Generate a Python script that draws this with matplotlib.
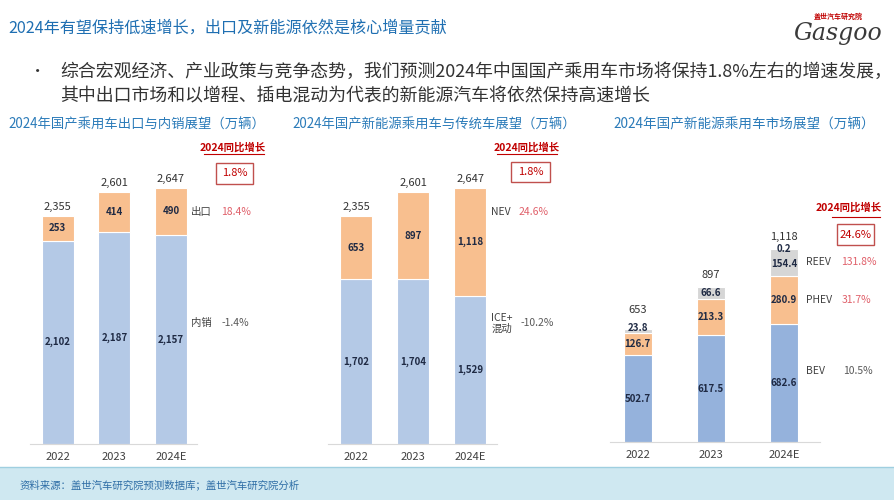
import matplotlib
matplotlib.use("Agg")
import matplotlib.pyplot as plt
from matplotlib.patches import Rectangle
from matplotlib.lines import Line2D

plt.rcParams['font.family'] = ['Noto Sans CJK SC', 'DejaVu Sans']

# ---- data ----
years = ['2022', '2023', '2024E']

domestic = [2102, 2187, 2157]
export = [253, 414, 490]
totals1 = [2355, 2601, 2647]

ice = [1702, 1704, 1529]
nev = [653, 897, 1118]
totals2 = [2355, 2601, 2647]

bev = [502.7, 617.5, 682.6]
phev = [126.7, 213.3, 280.9]
reev = [23.8, 66.6, 154.4]
fcev = [0, 0, 0.2]
totals3 = [653, 897, 1118]

growth_total = '1.8%'
growth_export, growth_domestic = '18.4%', '-1.4%'
growth_nev, growth_ice = '24.6%', '-10.2%'
growth_nev_total = '24.6%'
growth_reev, growth_phev, growth_bev = '131.8%', '31.7%', '10.5%'

BLUE = '#b4c9e6'
BLUE3 = '#95b2dc'
ORANGE = '#f8bf8f'
GREY = '#d6d6d6'
VAL = '#1f2a44'
RED = '#c00000'
PINK = '#e0606a'
GRAYTXT = '#595959'
TITLEBLUE = '#2b7bb9'

W, H = 894, 500
fig = plt.figure(figsize=(W / 100, H / 100), dpi=100)


def fx(x):
    return x / W


def fy(y):
    return 1 - y / H


def axes_px(x0, x1, ytop, ybot):
    return fig.add_axes([fx(x0), fy(ybot), (x1 - x0) / W, (ybot - ytop) / H])


def fmt(v):
    return f'{v:,.0f}'


def style(ax):
    for s in ['top', 'right', 'left']:
        ax.spines[s].set_visible(False)
    ax.spines['bottom'].set_color('#d9d9d9')
    ax.set_yticks([])
    ax.set_xticks(range(3))
    ax.set_xticklabels(years, fontsize=8, color='#404040')
    ax.tick_params(axis='x', length=0, pad=6)
    ax.patch.set_alpha(0)


def growth_header(cx, y, x0, x1, yline, bx0, bx1, by0, by1, val):
    fig.text(fx(cx), fy(y), '2024同比增长', ha='center', va='center',
             fontsize=7.5, color=RED, fontweight='bold')
    fig.add_artist(Line2D([fx(x0), fx(x1)], [fy(yline), fy(yline)],
                          color=RED, lw=0.8))
    fig.add_artist(Rectangle((fx(bx0), fy(by1)), (bx1 - bx0) / W, (by1 - by0) / H,
                             fill=False, edgecolor='#c0504d', lw=1.0))
    fig.text(fx((bx0 + bx1) / 2), fy((by0 + by1) / 2), val, ha='center',
             va='center', fontsize=8, color=RED)


# ---- header texts ----
fig.text(fx(8), fy(28), '2024年有望保持低速增长，出口及新能源依然是核心增量贡献',
         fontsize=11.6, color='#1f6fb2', va='center', ha='left')
fig.text(fx(30), fy(72), '•', fontsize=11, color='#333333', va='center')
fig.text(fx(60), fy(72),
         '综合宏观经济、产业政策与竞争态势，我们预测2024年中国国产乘用车市场将保持1.8%左右的增速发展，',
         fontsize=12.9, color='#333333', va='center')
fig.text(fx(60), fy(96), '其中出口市场和以增程、插电混动为代表的新能源汽车将依然保持高速增长',
         fontsize=12.9, color='#333333', va='center')

# logo
fig.text(fx(838), fy(16), '盖世汽车研究院', fontsize=5, color=RED, ha='center',
         va='center', fontweight='bold')
fig.text(fx(838), fy(33), 'Gasgoo', fontsize=17, color='#3a3a3a', ha='center',
         va='center', family='DejaVu Serif', style='italic')

fig.text(fx(8), fy(125), '2024年国产乘用车出口与内销展望（万辆）', fontsize=9.6,
         color=TITLEBLUE, va='center')
fig.text(fx(292), fy(125), '2024年国产新能源乘用车与传统车展望（万辆）', fontsize=9.6,
         color=TITLEBLUE, va='center')
fig.text(fx(613), fy(125), '2024年国产新能源乘用车市场展望（万辆）', fontsize=9.8,
         color=TITLEBLUE, va='center')

xs = range(3)

# ---- panel 1 ----
ax1 = axes_px(30, 197, 170, 444)
ax1.set_xlim(-0.49, 2.46)
ax1.set_ylim(0, 274 / 0.0968)
ax1.bar(xs, domestic, width=0.56, color=BLUE, edgecolor='white', lw=0.8)
ax1.bar(xs, export, bottom=domestic, width=0.56, color=ORANGE, edgecolor='white', lw=0.8)
for i in xs:
    ax1.text(i, domestic[i] / 2, fmt(domestic[i]), ha='center', va='center',
             fontsize=7, fontweight='bold', color=VAL)
    ax1.text(i, domestic[i] + export[i] / 2, fmt(export[i]), ha='center',
             va='center', fontsize=7, fontweight='bold', color=VAL)
    ax1.annotate(fmt(totals1[i]), (i, totals1[i]), xytext=(0, 6.5),
                 textcoords='offset points', ha='center', va='center',
                 fontsize=8, color='#333333')
style(ax1)
ax1.text(2.35, 2397, '出口', fontsize=7.5, color='#404040', va='center', clip_on=False)
ax1.text(2.88, 2397, growth_export, fontsize=7.5, color=PINK, va='center', clip_on=False)
ax1.text(2.35, 1250, '内销', fontsize=7.5, color='#404040', va='center', clip_on=False)
ax1.text(2.9, 1250, growth_domestic, fontsize=7.5, color=GRAYTXT, va='center', clip_on=False)
growth_header(233, 147, 204, 264, 154, 216, 253, 163, 184, growth_total)

# ---- panel 2 ----
ax2 = axes_px(328, 497, 170, 444)
ax2.set_xlim(-0.49, 2.47)
ax2.set_ylim(0, 274 / 0.0968)
ax2.bar(xs, ice, width=0.56, color=BLUE, edgecolor='white', lw=0.8)
ax2.bar(xs, nev, bottom=ice, width=0.56, color=ORANGE, edgecolor='white', lw=0.8)
for i in xs:
    ax2.text(i, ice[i] / 2, fmt(ice[i]), ha='center', va='center',
             fontsize=7, fontweight='bold', color=VAL)
    ax2.text(i, ice[i] + nev[i] / 2, fmt(nev[i]), ha='center',
             va='center', fontsize=7, fontweight='bold', color=VAL)
    ax2.annotate(fmt(totals2[i]), (i, totals2[i]), xytext=(0, 6.5),
                 textcoords='offset points', ha='center', va='center',
                 fontsize=8, color='#333333')
style(ax2)
ax2.text(2.37, 2397, 'NEV', fontsize=7.5, color='#404040', va='center', clip_on=False)
ax2.text(2.85, 2397, growth_nev, fontsize=7.5, color=PINK, va='center', clip_on=False)
ax2.text(2.37, 1250, 'ICE+\n混动', fontsize=7.5, color='#404040', va='center',
         linespacing=1.1, clip_on=False)
ax2.text(2.88, 1250, growth_ice, fontsize=7.5, color=GRAYTXT, va='center', clip_on=False)
growth_header(527, 147, 497, 557, 154, 511, 550, 162, 182, growth_total)

# ---- panel 3 ----
s3 = 0.1726
ax3 = axes_px(610, 820, 200, 442)
ax3.set_xlim(-0.38, 2.49)
ax3.set_ylim(0, 242 / s3)
b2 = [b + p for b, p in zip(bev, phev)]
b3 = [b + r for b, r in zip(b2, reev)]
ax3.bar(xs, bev, width=0.38, color=BLUE3, edgecolor='white', lw=0.8)
ax3.bar(xs, phev, bottom=bev, width=0.38, color=ORANGE, edgecolor='white', lw=0.8)
ax3.bar(xs, reev, bottom=b2, width=0.38, color=GREY, edgecolor='white', lw=0.8)
ax3.bar(xs, fcev, bottom=b3, width=0.38, color=GREY, lw=0)
for i in xs:
    ax3.text(i, bev[i] / 2, f'{bev[i]:.1f}', ha='center', va='center',
             fontsize=7, fontweight='bold', color=VAL)
    ax3.text(i, bev[i] + phev[i] / 2, f'{phev[i]:.1f}', ha='center',
             va='center', fontsize=7, fontweight='bold', color=VAL)
    if reev[i] > 100:
        ax3.annotate(f'{reev[i]:.1f}', (i, b2[i] + reev[i] / 2), xytext=(0, -1),
                     textcoords='offset points', ha='center', va='center',
                     fontsize=7, fontweight='bold', color=VAL)
    elif reev[i] > 40:
        ax3.text(i, b2[i] + reev[i] / 2, f'{reev[i]:.1f}', ha='center',
                 va='center', fontsize=7, fontweight='bold', color=VAL)
    else:
        ax3.annotate(f'{reev[i]:.1f}', (i, b3[i]), xytext=(0, 1),
                     textcoords='offset points', ha='center', va='center',
                     fontsize=7, fontweight='bold', color=VAL)
    if fcev[i] > 0:
        ax3.annotate(f'{fcev[i]:.1f}', (i, b3[i]), xytext=(0, 0),
                     textcoords='offset points', ha='center', va='center',
                     fontsize=7, fontweight='bold', color=VAL)
    off = 14 if i == 0 else 8.5
    ax3.annotate(fmt(totals3[i]), (i, totals3[i]), xytext=(0, off),
                 textcoords='offset points', ha='center', va='center',
                 fontsize=8, color='#333333')
style(ax3)
ax3.text(2.3, b2[2] + reev[2] / 2, 'REEV', fontsize=7.5, color='#404040',
         va='center', clip_on=False)
ax3.text(2.78, b2[2] + reev[2] / 2, growth_reev, fontsize=7.5, color=PINK,
         va='center', clip_on=False)
ax3.text(2.3, bev[2] + phev[2] / 2, 'PHEV', fontsize=7.5, color='#404040',
         va='center', clip_on=False)
ax3.text(2.78, bev[2] + phev[2] / 2, growth_phev, fontsize=7.5, color=PINK,
         va='center', clip_on=False)
ax3.text(2.3, bev[2] * 0.6, 'BEV', fontsize=7.5, color='#404040',
         va='center', clip_on=False)
ax3.text(2.8, bev[2] * 0.6, growth_bev, fontsize=7.5, color=GRAYTXT,
         va='center', clip_on=False)
growth_header(849, 208, 832, 880, 217, 837, 874, 224, 245, growth_nev_total)

# ---- footer ----
fig.add_artist(Rectangle((0, 0), 1, 33 / H, color='#cfe8f1', lw=0, zorder=0))
fig.add_artist(Line2D([0, 1], [33 / H, 33 / H], color='#9fcfe0', lw=1))
fig.text(fx(20), fy(485), '资料来源：盖世汽车研究院预测数据库；盖世汽车研究院分析',
         fontsize=7.5, color='#2f6ea6', va='center', style='italic')

fig.savefig('out.png', dpi=100)
